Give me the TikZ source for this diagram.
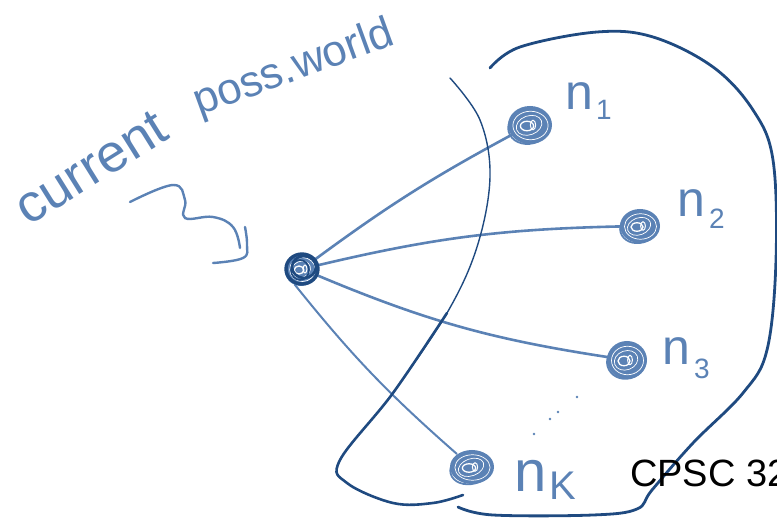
\documentclass[tikz,border=0pt]{standalone}
\usepackage{fontspec}
\setmainfont{Liberation Sans}
\definecolor{lb}{HTML}{5B82B5}
\definecolor{db}{HTML}{1F4A80}
\newcommand\myscrib[4]{%
  \fill[#4] (#1) ellipse[x radius=#2, y radius=#3];
  \draw[white, line width=0.7, shift={(#1)}] (0.5,0.5) ellipse[x radius=.8*#2, y radius=.75*#3];
  \draw[white, line width=0.7, shift={(#1)}, rotate=20] (-1,0) ellipse[x radius=.6*#2, y radius=.5*#3];
  \draw[white, line width=1.3, shift={(#1)}] (-3,1) ellipse[x radius=.3*#2, y radius=.25*#3];
  \draw[white, line width=1, shift={(#1)}] (3,0) ellipse[x radius=.12*#2, y radius=.25*#3];
  \draw[#4, line width=1.8, shift={(#1)}, rotate=15] (-1,1) ellipse[x radius=.97*#2, y radius=.92*#3];
}
\tikzset{
  dot/.style={circle, inner sep=0pt, minimum size=#1},
  edge/.style={lb, line width=2.6, line cap=round},
  lbl/.style={lb, font=\fontsize{50}{50}\selectfont, inner sep=0pt, anchor=base west},
  hand/.style={lb, inner sep=0pt, anchor=base},
}
\begin{document}
\begin{tikzpicture}[x=1pt,y=-1pt]
\useasboundingbox (0,0) rectangle (777,518);
\clip (0,0) rectangle (777,518);
% nodes
\node[dot=34pt] (c) at (302,269) {};
\node[dot=42pt] (n1) at (530,125) {};
\node[dot=38pt] (n2) at (640,226) {};
\node[dot=40pt] (n3) at (627,360) {};
\node[dot=40pt] (nk) at (472,467) {};
% connectors
\draw[edge] (c) to[bend left=4] (n1);
\draw[edge] (c) to[bend left=6] (n2);
\draw[edge] (c) to[bend right=7] (n3);
\draw[edge, line width=2] (c.245) to[bend right=5] (nk);
% big loop
\draw[db, line width=2.8, line cap=round] plot[smooth, tension=0.6] coordinates {
 (490,68) (520,47) (597,32) (653,37) (713,67) (753,110) (773,160) (776,260)
 (767,350) (743,393) (693,443) (652,490) (637,509) (593,515) (493,515) (458,507)};
\draw[db, line width=1.4, line cap=round] plot[smooth, tension=0.6] coordinates {
 (450,78) (480,120) (490,177) (477,247) (447,313) (393,393)};
\draw[db, line width=2.6, line cap=round] plot[smooth, tension=0.6] coordinates {
 (447,313) (393,393) (340,460) (347,483) (393,503) (433,503) (463,495)};
% node scribbles
\myscrib{n1}{22}{19}{lb}
\myscrib{n2}{20}{17}{lb}
\myscrib{n3}{20}{19}{lb}
\myscrib{nk}{22}{17}{lb}
\myscrib{c}{16}{16}{lb}
\draw[db, line width=3.4] (c) ellipse[x radius=16, y radius=15];
\draw[db, line width=2.6, shift={(c)}] (2,-2) ellipse[x radius=12, y radius=11];
\draw[db, line width=1.6, shift={(c)}] (-2,1) ellipse[x radius=9, y radius=10];
% labels
\node[lbl] (l1) at (565,110) {n\kern3pt\raisebox{-10pt}{\fontsize{28}{28}\selectfont 1}};
\node[lbl] (l2) at (677,217) {n\kern4pt\raisebox{-12pt}{\fontsize{28}{28}\selectfont 2}};
\node[lbl] (l3) at (662,365) {n\kern4pt\raisebox{-14pt}{\fontsize{28}{28}\selectfont 3}};
\node[lbl, font=\fontsize{58}{58}\selectfont] (lk) at (514,492) {n\kern3pt\raisebox{-8pt}{\fontsize{40}{40}\selectfont K}};
% dots
\foreach \p in {(577,397),(558,412),(550,419),(534,434)}
  \fill[lb] \p circle (1.3);
% handwritten caption
\node[hand, rotate=32] (cur) at (100,182) {\scalebox{1.18}[1.15]{\fontsize{46}{46}\selectfont current}};
\node[hand, rotate=20] (pw) at (298,80) {\fontsize{44}{44}\selectfont poss.world};
% squiggle arrow
\draw[lb, line width=2.4, line cap=round] plot[smooth, tension=0.7] coordinates {
 (130,202) (173,185) (185,200) (185,218) (213,217) (233,227) (240,248)};
\draw[lb, line width=2.4, line cap=round] plot[smooth, tension=0.7] coordinates {
 (245,227) (247,245) (243,258) (213,263)};
% footer
\node[anchor=base west, inner sep=0pt, font=\fontsize{38}{38}\selectfont] (cpsc) at (630,487) {CPSC 322};
\end{tikzpicture}
\end{document}
